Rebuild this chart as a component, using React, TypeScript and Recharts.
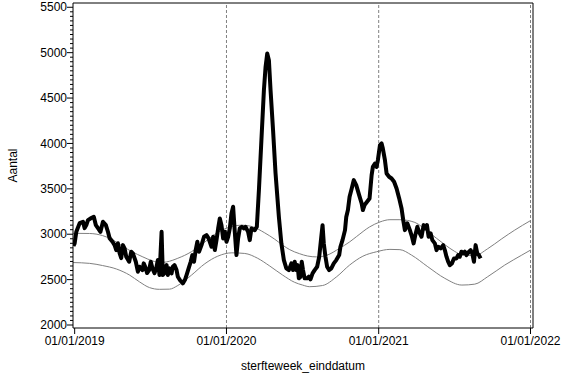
import React from 'react';
import { LineChart, Line, XAxis, YAxis, ReferenceLine, Label } from 'recharts';

const FONT = '"Liberation Sans", Arial, Helvetica, sans-serif';

// x values are days since 01/01/2019
const yearTickDays = [0, 365, 731, 1096];
const yearTickLabels = ['01/01/2019', '01/01/2020', '01/01/2021', '01/01/2022'];
const yearLineDays = [365, 731, 1096];
const yMajorTicks = [2000, 2500, 3000, 3500, 4000, 4500, 5000, 5500];

const actualDays = [
  -3, 0, 4, 12, 20, 24, 28, 32, 40, 46, 51, 56, 62, 68, 75, 80, 84, 91, 96, 100,
  104, 108, 112, 116, 120, 124, 131, 136, 140, 147, 152, 156, 163, 166, 171, 174, 179, 183, 187, 192,
  196, 200, 204, 209, 212, 216, 221, 224, 228, 233, 236, 240, 245, 248, 253, 257, 260, 265, 269, 274,
  279, 283, 287, 291, 295, 299, 305, 311, 317, 322, 329, 333, 337, 341, 345, 349, 353, 357, 361, 365,
  369, 373, 377, 381, 385, 389, 393, 397, 402, 407, 411, 417, 421, 425, 433, 438, 443, 449, 455, 459,
  463, 467, 471, 477, 483, 491, 497, 503, 509, 515, 521, 525, 529, 533, 536, 539, 543, 546, 549, 553,
  559, 563, 567, 572, 577, 583, 588, 593, 596, 599, 603, 607, 612, 617, 623, 629, 636, 639, 644, 650,
  653, 657, 661, 666, 671, 677, 684, 690, 693, 697, 703, 709, 714, 717, 722, 726, 729, 734, 738, 741,
  746, 750, 756, 762, 768, 774, 780, 786, 790, 794, 800, 806, 811, 815, 819, 824, 828, 834, 839, 844,
  847, 851, 856, 860, 866, 870, 874, 880, 886, 890, 894, 898, 902, 907, 912, 918, 922, 926, 930, 934,
  938, 942, 948, 952, 956, 960, 964, 968, 972, 976,
];
const actualDeaths = [
  2870, 2900, 3027, 3122, 3137, 3067, 3100, 3155, 3178, 3192, 3100, 3067, 3027, 3137, 3100, 3027, 2957, 2917, 2880, 2825,
  2900, 2792, 2737, 2880, 2844, 2752, 2697, 2807, 2789, 2697, 2587, 2642, 2605, 2679, 2624, 2572, 2605, 2697, 2624, 2572,
  2624, 2715, 2550, 3027, 2550, 2572, 2660, 2550, 2624, 2569, 2642, 2660, 2605, 2532, 2495, 2477, 2458, 2495, 2550, 2624,
  2697, 2770, 2697, 2825, 2917, 2807, 2880, 2972, 2990, 2954, 2862, 2972, 2825, 2935, 3064, 3174, 3100, 2954, 3027, 2917,
  2972, 3064, 3229, 3302, 3027, 2770, 2954, 3064, 3082, 3064, 3082, 3027, 2935, 3064, 3045, 3082, 3486, 4036, 4586, 4843,
  4990, 4917, 4586, 4146, 3669, 3192, 2899, 2715, 2624, 2605, 2679, 2605, 2697, 2605, 2660, 2514, 2532, 2697, 2605, 2514,
  2514, 2532, 2503, 2569, 2605, 2642, 2752, 2972, 3100, 2899, 2752, 2642, 2605, 2624, 2679, 2715, 2770, 2862, 2935, 3045,
  3190, 3266, 3412, 3500, 3596, 3541, 3431, 3339, 3266, 3321, 3357, 3394, 3651, 3742, 3779, 3742, 3816, 3981, 4000, 3944,
  3816, 3669, 3633, 3614, 3578, 3504, 3400, 3284, 3155, 3045, 3119, 3045, 2972, 2899, 2990, 3082, 3027, 2972, 3100, 3064,
  3100, 2972, 3009, 2935, 2899, 2825, 2862, 2844, 2880, 2825, 2752, 2697, 2660, 2679, 2733, 2733, 2770, 2752, 2807, 2789,
  2807, 2770, 2807, 2825, 2789, 2697, 2880, 2789, 2770, 2733,
];

const upperDays = [
  -4, 36, 67, 91, 115, 139, 164, 188, 204, 221, 248, 281, 313, 344, 378, 402, 426, 457, 481, 500,
  517, 541, 560, 582, 606, 637, 661, 678, 709, 734, 758, 782, 818, 849, 890, 914, 931, 962, 993, 1027,
  1058, 1096,
];
const upperValues = [
  3010, 3008, 2985, 2940, 2868, 2805, 2750, 2705, 2688, 2695, 2735, 2808, 2915, 3020, 3085, 3100, 3085, 3015, 2945, 2880,
  2830, 2785, 2760, 2750, 2768, 2845, 2915, 2975, 3080, 3135, 3160, 3160, 3130, 3030, 2885, 2810, 2775, 2765, 2840, 2950,
  3045, 3150,
];

const lowerDays = [
  -4, 36, 67, 101, 132, 156, 180, 204, 228, 248, 281, 313, 344, 378, 409, 440, 469, 500, 529, 548,
  565, 596, 630, 661, 693, 726, 758, 782, 810, 849, 890, 931, 962, 993, 1034, 1075, 1096,
];
const lowerValues = [
  2688, 2679, 2655, 2616, 2550, 2475, 2412, 2393, 2395, 2435, 2550, 2675, 2758, 2795, 2788, 2735, 2650, 2550, 2470, 2440,
  2422, 2435, 2532, 2660, 2758, 2807, 2833, 2830, 2770, 2642, 2514, 2440, 2450, 2532, 2660, 2770, 2825,
];

const actualData = actualDays.map((d, i) => ({ day: d, value: actualDeaths[i] }));
const upperData = upperDays.map((d, i) => ({ day: d, value: upperValues[i] }));
const lowerData = lowerDays.map((d, i) => ({ day: d, value: lowerValues[i] }));

const X_DOMAIN: [number, number] = [-4, 1102];
const Y_DOMAIN: [number, number] = [1967, 5547];
const yAllTicks = Array.from({ length: 71 }, (_, i) => 2000 + i * 50);

const YTick = (props: any) => {
  const { x, y, payload } = props;
  const v = payload.value as number;
  const major = yMajorTicks.includes(v);
  return (
    <g>
      <line x1={x - (major ? 6 : 3)} x2={x} y1={y} y2={y} stroke="#000" strokeWidth={1} />
      {major && (
        <text x={x - 6} y={y} dy="0.35em" textAnchor="end" fontSize={12} fill="#000" fontFamily={FONT}>
          {v}
        </text>
      )}
    </g>
  );
};

const xFormatter = (v: number) => {
  const i = yearTickDays.indexOf(v);
  return i >= 0 ? yearTickLabels[i] : '';
};

export default function App() {
  return (
    <div style={{ position: 'absolute', left: 0, top: 0, width: 567, height: 378, background: '#fff' }}>
      <LineChart width={567} height={378} margin={{ top: 3, right: 34, left: 0, bottom: 0 }}>
        <XAxis
          dataKey="day"
          type="number"
          domain={X_DOMAIN}
          allowDataOverflow
          ticks={yearTickDays}
          tickFormatter={xFormatter}
          interval={0}
          height={50}
          tickSize={6}
          tickMargin={2}
          stroke="#000"
          tick={{ fill: '#000', fontSize: 12, fontFamily: FONT }}
          axisLine={{ stroke: '#000' }}
          tickLine={{ stroke: '#000' }}
        >
          <Label
            content={(p: any) => {
              const vb = p.viewBox;
              return (
                <text x={vb.x + vb.width / 2} y={vb.y + 42} textAnchor="middle" fontSize={12} fill="#000" fontFamily={FONT}>
                  sterfteweek_einddatum
                </text>
              );
            }}
          />
        </XAxis>
        <YAxis
          type="number"
          domain={Y_DOMAIN}
          allowDataOverflow
          ticks={yAllTicks}
          interval={0}
          width={73}
          tickSize={0}
          tickMargin={0}
          tickLine={false}
          tick={<YTick />}
          axisLine={{ stroke: '#000' }}
        >
          <Label
            content={(p: any) => {
              const vb = p.viewBox;
              const cx = 16.5;
              const cy = vb.y + vb.height / 2;
              return (
                <text x={cx} y={cy} transform={`rotate(-90, ${cx}, ${cy})`} textAnchor="middle" fontSize={12} fill="#000" fontFamily={FONT}>
                  Aantal
                </text>
              );
            }}
          />
        </YAxis>
        {yearLineDays.map((d) => (
          <ReferenceLine key={d} x={d} stroke="#808080" strokeDasharray="3 2" strokeWidth={1} />
        ))}
        <ReferenceLine y={Y_DOMAIN[1]} stroke="#000" strokeWidth={1} />
        <ReferenceLine x={X_DOMAIN[1]} stroke="#000" strokeWidth={1} />
        <Line data={upperData} dataKey="value" type="monotone" stroke="#808080" strokeWidth={1} dot={false} isAnimationActive={false} />
        <Line data={lowerData} dataKey="value" type="monotone" stroke="#808080" strokeWidth={1} dot={false} isAnimationActive={false} />
        <Line data={actualData} dataKey="value" type="linear" stroke="#000" strokeWidth={4} strokeLinejoin="round" dot={false} isAnimationActive={false} />
      </LineChart>
    </div>
  );
}
